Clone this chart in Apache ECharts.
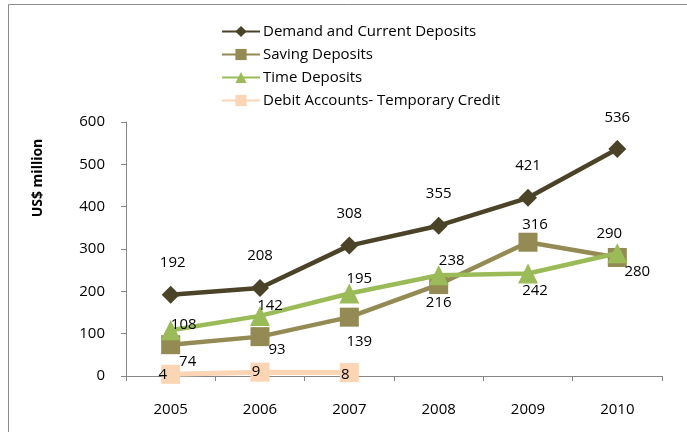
<!DOCTYPE html>
<html>
<head>
<meta charset="utf-8">
<script src="https://cdn.jsdelivr.net/npm/echarts@6/dist/echarts.min.js"></script>
<style>
  html, body { margin: 0; padding: 0; background: #fff; }
  #chart { width: 687px; height: 432px; }
</style>
</head>
<body>
<div id="chart"></div>
<script>
// Deposits by type, US$ million
const years = ['2005', '2006', '2007', '2008', '2009', '2010'];
const demandDeposits = [192, 208, 308, 355, 421, 536];
const savingDeposits = [74, 93, 139, 216, 316, 280];
const timeDeposits = [108, 142, 195, 238, 242, 290];
const debitAccounts = [4, 9, 8, null, null, null];
const yTicks = [0, 100, 200, 300, 400, 500, 600];

// Label nudges (pixels from the marker centre) so labels don't collide
const demandOffsets = [[2, -32], [0, -32], [0, -32], [0, -32], [0, -32], [0, -31]];
const savingOffsets = [[17, 17], [17, 13], [10, 25], [0, 18], [7, -17], [20, 14]];
const timeOffsets = [[13, -6], [10, -10], [10, -15], [13, -15], [7, 17], [-8, -19]];
const debitOffsets = [[-8, 0], [-4, 0], [-4, 2]];

const FONT = 'Open Sans';

function withLabels(values, offsets) {
  return values.map((v, i) => v == null ? null : {
    value: v,
    label: { show: true, position: 'inside', offset: offsets[i] }
  });
}

const labelStyle = { color: '#000', fontFamily: FONT, fontSize: 15 };

const chart = echarts.init(document.getElementById('chart'), null, { renderer: 'canvas' });
chart.setOption({
  animation: false,
  backgroundColor: '#fff',
  textStyle: { fontFamily: FONT },
  graphic: [
    {
      type: 'rect',
      shape: { x: 8.5, y: 4.5, width: 700, height: 440 },
      style: { fill: 'none', stroke: '#8c8c8c', lineWidth: 1 },
      silent: true
    },
    {
      type: 'text',
      x: 38, y: 178,
      rotation: Math.PI / 2,
      style: {
        text: 'US$ million',
        fill: '#000',
        font: 'bold 14px "Open Sans"',
        align: 'center',
        verticalAlign: 'middle'
      }
    }
  ],
  legend: {
    orient: 'vertical',
    left: 216,
    top: 19,
    itemWidth: 38,
    itemHeight: 14,
    itemGap: 8,
    textStyle: { color: '#000', fontFamily: FONT, fontSize: 15, padding: [0, 0, 0, -2] },
    data: ['Demand and Current Deposits', 'Saving Deposits', 'Time Deposits', 'Debit Accounts- Temporary Credit']
  },
  grid: { left: 126, right: 25, top: 122, bottom: 56, containLabel: false },
  xAxis: {
    type: 'category',
    data: years,
    boundaryGap: true,
    axisLine: { lineStyle: { color: '#868686', width: 1 } },
    axisTick: { show: true, alignWithLabel: false, length: 5, lineStyle: { color: '#868686' } },
    axisLabel: { color: '#000', fontFamily: FONT, fontSize: 15, margin: 26 }
  },
  yAxis: {
    type: 'value',
    min: 0, max: 600, interval: 100,
    axisLine: { show: true, lineStyle: { color: '#868686', width: 1 } },
    axisTick: { show: true, length: 5, lineStyle: { color: '#868686' } },
    splitLine: { show: false },
    axisLabel: {
      color: '#000', fontFamily: FONT, fontSize: 15, margin: 21,
      formatter: v => yTicks.includes(v) ? String(v) : ''
    }
  },
  series: [
    {
      name: 'Demand and Current Deposits',
      type: 'line',
      data: withLabels(demandDeposits, demandOffsets),
      symbol: 'diamond', symbolSize: 18,
      lineStyle: { color: '#4a4328', width: 4.5 },
      itemStyle: { color: '#4a4328' },
      label: labelStyle,
      z: 5
    },
    {
      name: 'Saving Deposits',
      type: 'line',
      data: withLabels(savingDeposits, savingOffsets),
      symbol: 'rect', symbolSize: 19,
      lineStyle: { color: '#948a54', width: 4.5 },
      itemStyle: { color: '#948a54' },
      label: labelStyle,
      z: 3
    },
    {
      name: 'Time Deposits',
      type: 'line',
      data: withLabels(timeDeposits, timeOffsets),
      symbol: 'triangle', symbolSize: 20,
      lineStyle: { color: '#9bbb59', width: 4.5 },
      itemStyle: { color: '#9bbb59' },
      label: labelStyle,
      z: 4
    },
    {
      name: 'Debit Accounts- Temporary Credit',
      type: 'line',
      data: withLabels(debitAccounts, debitOffsets),
      symbol: 'rect', symbolSize: 19,
      lineStyle: { color: '#fcd5b5', width: 5 },
      itemStyle: { color: '#fcd5b5' },
      label: labelStyle,
      z: 2
    }
  ]
});
</script>
</body>
</html>
